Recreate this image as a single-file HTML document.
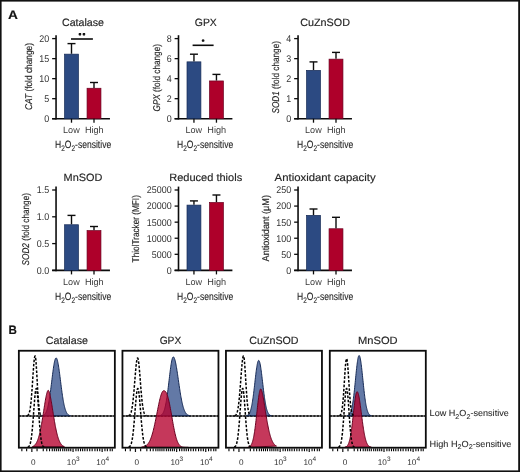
<!DOCTYPE html>
<html><head><meta charset="utf-8"><style>
html,body{margin:0;padding:0;background:#fff;}
body{width:520px;height:472px;overflow:hidden;}
svg{display:block;}
#w{width:520px;height:472px;will-change:transform;}
text{font-family:"Liberation Sans", sans-serif;text-rendering:geometricPrecision;stroke:#262626;stroke-width:0.16px;}
</style></head><body><div id="w">
<svg width="520" height="472" viewBox="0 0 520 472">
<rect x="0" y="0" width="520" height="472" fill="#fff"/>
<line x1="56.05" y1="35.2" x2="56.05" y2="119.5" stroke="#0c0c0c" stroke-width="1.6"/>
<line x1="52.15" y1="118.7" x2="109.94999999999999" y2="118.7" stroke="#0c0c0c" stroke-width="1.6"/>
<line x1="52.15" y1="118.70" x2="56.05" y2="118.70" stroke="#0c0c0c" stroke-width="1.3"/>
<text transform="translate(49.15,122.10) scale(0.91,1)" x="0" y="0" font-size="9.8" text-anchor="end" fill="#333" style="stroke-width:0">0</text>
<line x1="52.15" y1="98.68" x2="56.05" y2="98.68" stroke="#0c0c0c" stroke-width="1.3"/>
<text transform="translate(49.15,102.08) scale(0.91,1)" x="0" y="0" font-size="9.8" text-anchor="end" fill="#333" style="stroke-width:0">5</text>
<line x1="52.15" y1="78.65" x2="56.05" y2="78.65" stroke="#0c0c0c" stroke-width="1.3"/>
<text transform="translate(49.15,82.05) scale(0.91,1)" x="0" y="0" font-size="9.8" text-anchor="end" fill="#333" style="stroke-width:0">10</text>
<line x1="52.15" y1="58.63" x2="56.05" y2="58.63" stroke="#0c0c0c" stroke-width="1.3"/>
<text transform="translate(49.15,62.03) scale(0.91,1)" x="0" y="0" font-size="9.8" text-anchor="end" fill="#333" style="stroke-width:0">15</text>
<line x1="52.15" y1="38.60" x2="56.05" y2="38.60" stroke="#0c0c0c" stroke-width="1.3"/>
<text transform="translate(49.15,42.00) scale(0.91,1)" x="0" y="0" font-size="9.8" text-anchor="end" fill="#333" style="stroke-width:0">20</text>
<line x1="71.5" y1="43.6" x2="71.5" y2="53.8" stroke="#0c0c0c" stroke-width="1.4"/>
<line x1="67.5" y1="43.6" x2="75.5" y2="43.6" stroke="#0c0c0c" stroke-width="1.4"/>
<rect x="64.55" y="54.15" width="13.9" height="64.55000000000001" fill="#2c4a82" stroke="#162a55" stroke-width="0.7"/>
<line x1="71.5" y1="118.7" x2="71.5" y2="122.7" stroke="#0c0c0c" stroke-width="1.3"/>
<line x1="93.99999999999999" y1="82.5" x2="93.99999999999999" y2="87.9" stroke="#0c0c0c" stroke-width="1.4"/>
<line x1="89.99999999999999" y1="82.5" x2="97.99999999999999" y2="82.5" stroke="#0c0c0c" stroke-width="1.4"/>
<rect x="87.04999999999998" y="88.25" width="13.9" height="30.449999999999996" fill="#ae002a" stroke="#6a0020" stroke-width="0.7"/>
<line x1="93.99999999999999" y1="118.7" x2="93.99999999999999" y2="122.7" stroke="#0c0c0c" stroke-width="1.3"/>
<text x="71.40" y="133.10" font-size="9.2" text-anchor="middle" fill="#3a3a3a" font-weight="normal" font-style="normal" textLength="16.6" lengthAdjust="spacingAndGlyphs" style="stroke-width:0">Low</text>
<text x="94.30" y="133.10" font-size="9.2" text-anchor="middle" fill="#3a3a3a" font-weight="normal" font-style="normal" textLength="18.8" lengthAdjust="spacingAndGlyphs" style="stroke-width:0">High</text>
<text x="55.00" y="148.40" font-size="10.6" fill="#2a2a2a" style="stroke-width:0.12px" textLength="56.2" lengthAdjust="spacingAndGlyphs">H<tspan font-size="8" dy="2.6">2</tspan><tspan dy="-2.6">O</tspan><tspan font-size="8" dy="2.6">2</tspan><tspan dy="-2.6">-sensitive</tspan></text>
<text x="62.00" y="25.90" font-size="10.6" text-anchor="start" fill="#262626" font-weight="normal" font-style="normal" textLength="42.0" lengthAdjust="spacingAndGlyphs" >Catalase</text>
<text transform="translate(31.6,76.5) rotate(-90)" x="0" y="0" font-size="9.8" text-anchor="middle" fill="#262626" stroke="#262626" stroke-width="0.25" textLength="67" lengthAdjust="spacingAndGlyphs"><tspan font-style="italic">CAT</tspan><tspan font-style="normal"> (fold change)</tspan></text>
<line x1="71.0" y1="39.0" x2="92.9" y2="39.0" stroke="#0c0c0c" stroke-width="1.6"/>
<path d="M79.95,32.95 l0,2.6 M78.75,33.60 l2.4,1.3 M81.15,33.60 l-2.4,1.3" stroke="#111" stroke-width="1.1"/>
<path d="M83.95,32.95 l0,2.6 M82.75,33.60 l2.4,1.3 M85.15,33.60 l-2.4,1.3" stroke="#111" stroke-width="1.1"/>
<line x1="178.5" y1="35.2" x2="178.5" y2="119.5" stroke="#0c0c0c" stroke-width="1.6"/>
<line x1="174.6" y1="118.7" x2="232.4" y2="118.7" stroke="#0c0c0c" stroke-width="1.6"/>
<line x1="174.6" y1="118.70" x2="178.5" y2="118.70" stroke="#0c0c0c" stroke-width="1.3"/>
<text transform="translate(171.60,122.10) scale(0.91,1)" x="0" y="0" font-size="9.8" text-anchor="end" fill="#333" style="stroke-width:0">0</text>
<line x1="174.6" y1="98.68" x2="178.5" y2="98.68" stroke="#0c0c0c" stroke-width="1.3"/>
<text transform="translate(171.60,102.08) scale(0.91,1)" x="0" y="0" font-size="9.8" text-anchor="end" fill="#333" style="stroke-width:0">2</text>
<line x1="174.6" y1="78.65" x2="178.5" y2="78.65" stroke="#0c0c0c" stroke-width="1.3"/>
<text transform="translate(171.60,82.05) scale(0.91,1)" x="0" y="0" font-size="9.8" text-anchor="end" fill="#333" style="stroke-width:0">4</text>
<line x1="174.6" y1="58.63" x2="178.5" y2="58.63" stroke="#0c0c0c" stroke-width="1.3"/>
<text transform="translate(171.60,62.03) scale(0.91,1)" x="0" y="0" font-size="9.8" text-anchor="end" fill="#333" style="stroke-width:0">6</text>
<line x1="174.6" y1="38.60" x2="178.5" y2="38.60" stroke="#0c0c0c" stroke-width="1.3"/>
<text transform="translate(171.60,42.00) scale(0.91,1)" x="0" y="0" font-size="9.8" text-anchor="end" fill="#333" style="stroke-width:0">8</text>
<line x1="193.95000000000002" y1="54.2" x2="193.95000000000002" y2="61.5" stroke="#0c0c0c" stroke-width="1.4"/>
<line x1="189.95000000000002" y1="54.2" x2="197.95000000000002" y2="54.2" stroke="#0c0c0c" stroke-width="1.4"/>
<rect x="187.0" y="61.85" width="13.9" height="56.85" fill="#2c4a82" stroke="#162a55" stroke-width="0.7"/>
<line x1="193.95000000000002" y1="118.7" x2="193.95000000000002" y2="122.7" stroke="#0c0c0c" stroke-width="1.3"/>
<line x1="216.45000000000002" y1="74.4" x2="216.45000000000002" y2="80.6" stroke="#0c0c0c" stroke-width="1.4"/>
<line x1="212.45000000000002" y1="74.4" x2="220.45000000000002" y2="74.4" stroke="#0c0c0c" stroke-width="1.4"/>
<rect x="209.5" y="80.94999999999999" width="13.9" height="37.75000000000001" fill="#ae002a" stroke="#6a0020" stroke-width="0.7"/>
<line x1="216.45000000000002" y1="118.7" x2="216.45000000000002" y2="122.7" stroke="#0c0c0c" stroke-width="1.3"/>
<text x="193.85" y="133.10" font-size="9.2" text-anchor="middle" fill="#3a3a3a" font-weight="normal" font-style="normal" textLength="16.6" lengthAdjust="spacingAndGlyphs" style="stroke-width:0">Low</text>
<text x="216.75" y="133.10" font-size="9.2" text-anchor="middle" fill="#3a3a3a" font-weight="normal" font-style="normal" textLength="18.8" lengthAdjust="spacingAndGlyphs" style="stroke-width:0">High</text>
<text x="177.00" y="148.40" font-size="10.6" fill="#2a2a2a" style="stroke-width:0.12px" textLength="56.2" lengthAdjust="spacingAndGlyphs">H<tspan font-size="8" dy="2.6">2</tspan><tspan dy="-2.6">O</tspan><tspan font-size="8" dy="2.6">2</tspan><tspan dy="-2.6">-sensitive</tspan></text>
<text x="194.80" y="25.90" font-size="10.6" text-anchor="start" fill="#262626" font-weight="normal" font-style="normal" textLength="22.0" lengthAdjust="spacingAndGlyphs" >GPX</text>
<text transform="translate(159.8,77.8) rotate(-90)" x="0" y="0" font-size="9.8" text-anchor="middle" fill="#262626" stroke="#262626" stroke-width="0.25" textLength="67.4" lengthAdjust="spacingAndGlyphs"><tspan font-style="italic">GPX</tspan><tspan font-style="normal"> (fold change)</tspan></text>
<line x1="192.6" y1="45.3" x2="213.6" y2="45.3" stroke="#0c0c0c" stroke-width="1.6"/>
<path d="M203.10,39.25 l0,2.6 M201.90,39.90 l2.4,1.3 M204.30,39.90 l-2.4,1.3" stroke="#111" stroke-width="1.1"/>
<line x1="298.05" y1="35.2" x2="298.05" y2="119.5" stroke="#0c0c0c" stroke-width="1.6"/>
<line x1="294.15000000000003" y1="118.7" x2="351.95" y2="118.7" stroke="#0c0c0c" stroke-width="1.6"/>
<line x1="294.15000000000003" y1="118.70" x2="298.05" y2="118.70" stroke="#0c0c0c" stroke-width="1.3"/>
<text transform="translate(291.15,122.10) scale(0.91,1)" x="0" y="0" font-size="9.8" text-anchor="end" fill="#333" style="stroke-width:0">0</text>
<line x1="294.15000000000003" y1="98.68" x2="298.05" y2="98.68" stroke="#0c0c0c" stroke-width="1.3"/>
<text transform="translate(291.15,102.08) scale(0.91,1)" x="0" y="0" font-size="9.8" text-anchor="end" fill="#333" style="stroke-width:0">1</text>
<line x1="294.15000000000003" y1="78.65" x2="298.05" y2="78.65" stroke="#0c0c0c" stroke-width="1.3"/>
<text transform="translate(291.15,82.05) scale(0.91,1)" x="0" y="0" font-size="9.8" text-anchor="end" fill="#333" style="stroke-width:0">2</text>
<line x1="294.15000000000003" y1="58.63" x2="298.05" y2="58.63" stroke="#0c0c0c" stroke-width="1.3"/>
<text transform="translate(291.15,62.03) scale(0.91,1)" x="0" y="0" font-size="9.8" text-anchor="end" fill="#333" style="stroke-width:0">3</text>
<line x1="294.15000000000003" y1="38.60" x2="298.05" y2="38.60" stroke="#0c0c0c" stroke-width="1.3"/>
<text transform="translate(291.15,42.00) scale(0.91,1)" x="0" y="0" font-size="9.8" text-anchor="end" fill="#333" style="stroke-width:0">4</text>
<line x1="313.5" y1="61.9" x2="313.5" y2="70.0" stroke="#0c0c0c" stroke-width="1.4"/>
<line x1="309.5" y1="61.9" x2="317.5" y2="61.9" stroke="#0c0c0c" stroke-width="1.4"/>
<rect x="306.55" y="70.35" width="13.9" height="48.35" fill="#2c4a82" stroke="#162a55" stroke-width="0.7"/>
<line x1="313.5" y1="118.7" x2="313.5" y2="122.7" stroke="#0c0c0c" stroke-width="1.3"/>
<line x1="336.0" y1="52.4" x2="336.0" y2="58.8" stroke="#0c0c0c" stroke-width="1.4"/>
<line x1="332.0" y1="52.4" x2="340.0" y2="52.4" stroke="#0c0c0c" stroke-width="1.4"/>
<rect x="329.05" y="59.15" width="13.9" height="59.550000000000004" fill="#ae002a" stroke="#6a0020" stroke-width="0.7"/>
<line x1="336.0" y1="118.7" x2="336.0" y2="122.7" stroke="#0c0c0c" stroke-width="1.3"/>
<text x="313.40" y="133.10" font-size="9.2" text-anchor="middle" fill="#3a3a3a" font-weight="normal" font-style="normal" textLength="16.6" lengthAdjust="spacingAndGlyphs" style="stroke-width:0">Low</text>
<text x="336.30" y="133.10" font-size="9.2" text-anchor="middle" fill="#3a3a3a" font-weight="normal" font-style="normal" textLength="18.8" lengthAdjust="spacingAndGlyphs" style="stroke-width:0">High</text>
<text x="297.00" y="148.40" font-size="10.6" fill="#2a2a2a" style="stroke-width:0.12px" textLength="56.2" lengthAdjust="spacingAndGlyphs">H<tspan font-size="8" dy="2.6">2</tspan><tspan dy="-2.6">O</tspan><tspan font-size="8" dy="2.6">2</tspan><tspan dy="-2.6">-sensitive</tspan></text>
<text x="300.20" y="25.90" font-size="10.6" text-anchor="start" fill="#262626" font-weight="normal" font-style="normal" textLength="49.8" lengthAdjust="spacingAndGlyphs" >CuZnSOD</text>
<text transform="translate(279.0,77.3) rotate(-90)" x="0" y="0" font-size="9.8" text-anchor="middle" fill="#262626" stroke="#262626" stroke-width="0.25" textLength="72.4" lengthAdjust="spacingAndGlyphs"><tspan font-style="italic">SOD1</tspan><tspan font-style="normal"> (fold change)</tspan></text>
<line x1="56.05" y1="186.6" x2="56.05" y2="271.2" stroke="#0c0c0c" stroke-width="1.6"/>
<line x1="52.15" y1="270.4" x2="109.94999999999999" y2="270.4" stroke="#0c0c0c" stroke-width="1.6"/>
<line x1="52.15" y1="270.40" x2="56.05" y2="270.40" stroke="#0c0c0c" stroke-width="1.3"/>
<text transform="translate(49.15,273.80) scale(0.91,1)" x="0" y="0" font-size="9.8" text-anchor="end" fill="#333" style="stroke-width:0">0.0</text>
<line x1="52.15" y1="243.60" x2="56.05" y2="243.60" stroke="#0c0c0c" stroke-width="1.3"/>
<text transform="translate(49.15,247.00) scale(0.91,1)" x="0" y="0" font-size="9.8" text-anchor="end" fill="#333" style="stroke-width:0">0.5</text>
<line x1="52.15" y1="216.80" x2="56.05" y2="216.80" stroke="#0c0c0c" stroke-width="1.3"/>
<text transform="translate(49.15,220.20) scale(0.91,1)" x="0" y="0" font-size="9.8" text-anchor="end" fill="#333" style="stroke-width:0">1.0</text>
<line x1="52.15" y1="190.00" x2="56.05" y2="190.00" stroke="#0c0c0c" stroke-width="1.3"/>
<text transform="translate(49.15,193.40) scale(0.91,1)" x="0" y="0" font-size="9.8" text-anchor="end" fill="#333" style="stroke-width:0">1.5</text>
<line x1="71.5" y1="215.4" x2="71.5" y2="224.4" stroke="#0c0c0c" stroke-width="1.4"/>
<line x1="67.5" y1="215.4" x2="75.5" y2="215.4" stroke="#0c0c0c" stroke-width="1.4"/>
<rect x="64.55" y="224.75" width="13.9" height="45.64999999999997" fill="#2c4a82" stroke="#162a55" stroke-width="0.7"/>
<line x1="71.5" y1="270.4" x2="71.5" y2="274.4" stroke="#0c0c0c" stroke-width="1.3"/>
<line x1="93.99999999999999" y1="226.5" x2="93.99999999999999" y2="230.25" stroke="#0c0c0c" stroke-width="1.4"/>
<line x1="89.99999999999999" y1="226.5" x2="97.99999999999999" y2="226.5" stroke="#0c0c0c" stroke-width="1.4"/>
<rect x="87.04999999999998" y="230.6" width="13.9" height="39.799999999999976" fill="#ae002a" stroke="#6a0020" stroke-width="0.7"/>
<line x1="93.99999999999999" y1="270.4" x2="93.99999999999999" y2="274.4" stroke="#0c0c0c" stroke-width="1.3"/>
<text x="71.40" y="284.80" font-size="9.2" text-anchor="middle" fill="#3a3a3a" font-weight="normal" font-style="normal" textLength="16.6" lengthAdjust="spacingAndGlyphs" style="stroke-width:0">Low</text>
<text x="94.30" y="284.80" font-size="9.2" text-anchor="middle" fill="#3a3a3a" font-weight="normal" font-style="normal" textLength="18.8" lengthAdjust="spacingAndGlyphs" style="stroke-width:0">High</text>
<text x="55.00" y="300.10" font-size="10.6" fill="#2a2a2a" style="stroke-width:0.12px" textLength="56.2" lengthAdjust="spacingAndGlyphs">H<tspan font-size="8" dy="2.6">2</tspan><tspan dy="-2.6">O</tspan><tspan font-size="8" dy="2.6">2</tspan><tspan dy="-2.6">-sensitive</tspan></text>
<text x="63.60" y="181.00" font-size="10.6" text-anchor="start" fill="#262626" font-weight="normal" font-style="normal" textLength="38.8" lengthAdjust="spacingAndGlyphs" >MnSOD</text>
<text transform="translate(29.2,229.25) rotate(-90)" x="0" y="0" font-size="9.8" text-anchor="middle" fill="#262626" stroke="#262626" stroke-width="0.25" textLength="72.3" lengthAdjust="spacingAndGlyphs"><tspan font-style="italic">SOD2</tspan><tspan font-style="normal"> (fold change)</tspan></text>
<line x1="178.5" y1="186.6" x2="178.5" y2="271.2" stroke="#0c0c0c" stroke-width="1.6"/>
<line x1="174.6" y1="270.4" x2="232.4" y2="270.4" stroke="#0c0c0c" stroke-width="1.6"/>
<line x1="174.6" y1="270.40" x2="178.5" y2="270.40" stroke="#0c0c0c" stroke-width="1.3"/>
<text transform="translate(171.60,273.80) scale(0.91,1)" x="0" y="0" font-size="9.8" text-anchor="end" fill="#333" style="stroke-width:0">0</text>
<line x1="174.6" y1="254.32" x2="178.5" y2="254.32" stroke="#0c0c0c" stroke-width="1.3"/>
<text transform="translate(171.60,257.72) scale(0.91,1)" x="0" y="0" font-size="9.8" text-anchor="end" fill="#333" style="stroke-width:0">5000</text>
<line x1="174.6" y1="238.24" x2="178.5" y2="238.24" stroke="#0c0c0c" stroke-width="1.3"/>
<text transform="translate(171.60,241.64) scale(0.91,1)" x="0" y="0" font-size="9.8" text-anchor="end" fill="#333" style="stroke-width:0">10000</text>
<line x1="174.6" y1="222.16" x2="178.5" y2="222.16" stroke="#0c0c0c" stroke-width="1.3"/>
<text transform="translate(171.60,225.56) scale(0.91,1)" x="0" y="0" font-size="9.8" text-anchor="end" fill="#333" style="stroke-width:0">15000</text>
<line x1="174.6" y1="206.08" x2="178.5" y2="206.08" stroke="#0c0c0c" stroke-width="1.3"/>
<text transform="translate(171.60,209.48) scale(0.91,1)" x="0" y="0" font-size="9.8" text-anchor="end" fill="#333" style="stroke-width:0">20000</text>
<line x1="174.6" y1="190.00" x2="178.5" y2="190.00" stroke="#0c0c0c" stroke-width="1.3"/>
<text transform="translate(171.60,193.40) scale(0.91,1)" x="0" y="0" font-size="9.8" text-anchor="end" fill="#333" style="stroke-width:0">25000</text>
<line x1="193.95000000000002" y1="200.9" x2="193.95000000000002" y2="204.75" stroke="#0c0c0c" stroke-width="1.4"/>
<line x1="189.95000000000002" y1="200.9" x2="197.95000000000002" y2="200.9" stroke="#0c0c0c" stroke-width="1.4"/>
<rect x="187.0" y="205.1" width="13.9" height="65.29999999999998" fill="#2c4a82" stroke="#162a55" stroke-width="0.7"/>
<line x1="193.95000000000002" y1="270.4" x2="193.95000000000002" y2="274.4" stroke="#0c0c0c" stroke-width="1.3"/>
<line x1="216.45000000000002" y1="195.0" x2="216.45000000000002" y2="202.1" stroke="#0c0c0c" stroke-width="1.4"/>
<line x1="212.45000000000002" y1="195.0" x2="220.45000000000002" y2="195.0" stroke="#0c0c0c" stroke-width="1.4"/>
<rect x="209.5" y="202.45" width="13.9" height="67.94999999999999" fill="#ae002a" stroke="#6a0020" stroke-width="0.7"/>
<line x1="216.45000000000002" y1="270.4" x2="216.45000000000002" y2="274.4" stroke="#0c0c0c" stroke-width="1.3"/>
<text x="193.85" y="284.80" font-size="9.2" text-anchor="middle" fill="#3a3a3a" font-weight="normal" font-style="normal" textLength="16.6" lengthAdjust="spacingAndGlyphs" style="stroke-width:0">Low</text>
<text x="216.75" y="284.80" font-size="9.2" text-anchor="middle" fill="#3a3a3a" font-weight="normal" font-style="normal" textLength="18.8" lengthAdjust="spacingAndGlyphs" style="stroke-width:0">High</text>
<text x="177.00" y="300.10" font-size="10.6" fill="#2a2a2a" style="stroke-width:0.12px" textLength="56.2" lengthAdjust="spacingAndGlyphs">H<tspan font-size="8" dy="2.6">2</tspan><tspan dy="-2.6">O</tspan><tspan font-size="8" dy="2.6">2</tspan><tspan dy="-2.6">-sensitive</tspan></text>
<text x="169.20" y="181.00" font-size="10.6" text-anchor="start" fill="#262626" font-weight="normal" font-style="normal" textLength="73.0" lengthAdjust="spacingAndGlyphs" >Reduced thiols</text>
<text transform="translate(139.2,228.75) rotate(-90)" x="0" y="0" font-size="9.8" text-anchor="middle" fill="#262626" stroke="#262626" stroke-width="0.25" textLength="67.3" lengthAdjust="spacingAndGlyphs"><tspan font-style="normal">ThiolTracker (MFI)</tspan></text>
<line x1="298.05" y1="186.6" x2="298.05" y2="271.2" stroke="#0c0c0c" stroke-width="1.6"/>
<line x1="294.15000000000003" y1="270.4" x2="351.95" y2="270.4" stroke="#0c0c0c" stroke-width="1.6"/>
<line x1="294.15000000000003" y1="270.40" x2="298.05" y2="270.40" stroke="#0c0c0c" stroke-width="1.3"/>
<text transform="translate(291.15,273.80) scale(0.91,1)" x="0" y="0" font-size="9.8" text-anchor="end" fill="#333" style="stroke-width:0">0</text>
<line x1="294.15000000000003" y1="254.32" x2="298.05" y2="254.32" stroke="#0c0c0c" stroke-width="1.3"/>
<text transform="translate(291.15,257.72) scale(0.91,1)" x="0" y="0" font-size="9.8" text-anchor="end" fill="#333" style="stroke-width:0">50</text>
<line x1="294.15000000000003" y1="238.24" x2="298.05" y2="238.24" stroke="#0c0c0c" stroke-width="1.3"/>
<text transform="translate(291.15,241.64) scale(0.91,1)" x="0" y="0" font-size="9.8" text-anchor="end" fill="#333" style="stroke-width:0">100</text>
<line x1="294.15000000000003" y1="222.16" x2="298.05" y2="222.16" stroke="#0c0c0c" stroke-width="1.3"/>
<text transform="translate(291.15,225.56) scale(0.91,1)" x="0" y="0" font-size="9.8" text-anchor="end" fill="#333" style="stroke-width:0">150</text>
<line x1="294.15000000000003" y1="206.08" x2="298.05" y2="206.08" stroke="#0c0c0c" stroke-width="1.3"/>
<text transform="translate(291.15,209.48) scale(0.91,1)" x="0" y="0" font-size="9.8" text-anchor="end" fill="#333" style="stroke-width:0">200</text>
<line x1="294.15000000000003" y1="190.00" x2="298.05" y2="190.00" stroke="#0c0c0c" stroke-width="1.3"/>
<text transform="translate(291.15,193.40) scale(0.91,1)" x="0" y="0" font-size="9.8" text-anchor="end" fill="#333" style="stroke-width:0">250</text>
<line x1="313.5" y1="209.0" x2="313.5" y2="215.0" stroke="#0c0c0c" stroke-width="1.4"/>
<line x1="309.5" y1="209.0" x2="317.5" y2="209.0" stroke="#0c0c0c" stroke-width="1.4"/>
<rect x="306.55" y="215.35" width="13.9" height="55.049999999999976" fill="#2c4a82" stroke="#162a55" stroke-width="0.7"/>
<line x1="313.5" y1="270.4" x2="313.5" y2="274.4" stroke="#0c0c0c" stroke-width="1.3"/>
<line x1="336.0" y1="217.3" x2="336.0" y2="228.4" stroke="#0c0c0c" stroke-width="1.4"/>
<line x1="332.0" y1="217.3" x2="340.0" y2="217.3" stroke="#0c0c0c" stroke-width="1.4"/>
<rect x="329.05" y="228.75" width="13.9" height="41.64999999999997" fill="#ae002a" stroke="#6a0020" stroke-width="0.7"/>
<line x1="336.0" y1="270.4" x2="336.0" y2="274.4" stroke="#0c0c0c" stroke-width="1.3"/>
<text x="313.40" y="284.80" font-size="9.2" text-anchor="middle" fill="#3a3a3a" font-weight="normal" font-style="normal" textLength="16.6" lengthAdjust="spacingAndGlyphs" style="stroke-width:0">Low</text>
<text x="336.30" y="284.80" font-size="9.2" text-anchor="middle" fill="#3a3a3a" font-weight="normal" font-style="normal" textLength="18.8" lengthAdjust="spacingAndGlyphs" style="stroke-width:0">High</text>
<text x="297.00" y="300.10" font-size="10.6" fill="#2a2a2a" style="stroke-width:0.12px" textLength="56.2" lengthAdjust="spacingAndGlyphs">H<tspan font-size="8" dy="2.6">2</tspan><tspan dy="-2.6">O</tspan><tspan font-size="8" dy="2.6">2</tspan><tspan dy="-2.6">-sensitive</tspan></text>
<text x="274.60" y="181.00" font-size="10.6" text-anchor="start" fill="#262626" font-weight="normal" font-style="normal" textLength="101.0" lengthAdjust="spacingAndGlyphs" >Antioxidant capacity</text>
<text transform="translate(269.2,228.25) rotate(-90)" x="0" y="0" font-size="9.8" text-anchor="middle" fill="#262626" stroke="#262626" stroke-width="0.25" textLength="66.3" lengthAdjust="spacingAndGlyphs"><tspan font-style="normal">Antioxidant (μM)</tspan></text>
<text x="66.85" y="344.40" font-size="10.6" text-anchor="middle" fill="#262626" font-weight="normal" font-style="normal" textLength="42.2" lengthAdjust="spacingAndGlyphs" >Catalase</text>
<clipPath id="clipB0"><rect x="18.85" y="350.75" width="96.0" height="96.94999999999999"/></clipPath>
<g clip-path="url(#clipB0)">
<line x1="18.85" y1="416.0" x2="114.85" y2="416.0" stroke="#4a4a4a" stroke-width="1.4"/>
<line x1="18.85" y1="416.0" x2="114.85" y2="416.0" stroke="#111" stroke-width="1.4" stroke-dasharray="2,1.5"/>
<path d="M41.91,415.75 L42.12,415.71 L42.32,415.66 L42.53,415.60 L42.73,415.54 L42.94,415.46 L43.14,415.38 L43.35,415.29 L43.55,415.18 L43.76,415.06 L43.96,414.92 L44.17,414.77 L44.37,414.59 L44.58,414.40 L44.78,414.18 L44.99,413.94 L45.19,413.67 L45.40,413.38 L45.60,413.05 L45.81,412.69 L46.01,412.29 L46.22,411.86 L46.42,411.39 L46.63,410.87 L46.83,410.31 L47.04,409.70 L47.24,409.04 L47.45,408.33 L47.65,407.57 L47.86,406.75 L48.06,405.87 L48.27,404.94 L48.47,403.95 L48.68,402.90 L48.88,401.80 L49.09,400.63 L49.29,399.41 L49.50,398.13 L49.70,396.79 L49.91,395.40 L50.11,393.96 L50.32,392.47 L50.52,390.94 L50.73,389.38 L50.93,387.77 L51.14,386.14 L51.34,384.49 L51.55,382.82 L51.75,381.14 L51.96,379.46 L52.16,377.79 L52.37,376.13 L52.57,374.49 L52.78,372.88 L52.98,371.32 L53.19,369.80 L53.39,368.34 L53.60,366.94 L53.80,365.62 L54.01,364.38 L54.21,363.23 L54.42,362.17 L54.62,361.22 L54.83,360.38 L55.03,359.66 L55.24,359.05 L55.44,358.57 L55.65,358.22 L55.85,357.99 L56.06,357.90 L56.27,357.94 L56.47,358.11 L56.68,358.39 L56.88,358.81 L57.09,359.34 L57.29,359.99 L57.50,360.75 L57.70,361.62 L57.91,362.59 L58.11,363.66 L58.32,364.82 L58.52,366.06 L58.73,367.38 L58.93,368.76 L59.14,370.21 L59.34,371.71 L59.55,373.25 L59.75,374.82 L59.96,376.43 L60.16,378.05 L60.37,379.69 L60.57,381.33 L60.78,382.97 L60.98,384.60 L61.19,386.22 L61.39,387.81 L61.60,389.38 L61.80,390.91 L62.01,392.41 L62.21,393.86 L62.42,395.27 L62.62,396.63 L62.83,397.95 L63.03,399.21 L63.24,400.41 L63.44,401.56 L63.65,402.66 L63.85,403.70 L64.06,404.68 L64.26,405.61 L64.47,406.48 L64.67,407.29 L64.88,408.06 L65.08,408.77 L65.29,409.43 L65.49,410.05 L65.70,410.62 L65.90,411.14 L66.11,411.63 L66.31,412.07 L66.52,412.48 L66.72,412.85 L66.93,413.19 L67.13,413.50 L67.34,413.77 L67.54,414.03 L67.75,414.25 L67.95,414.46 L68.16,414.64 L68.36,414.81 L68.57,414.95 L68.77,415.08 L68.98,415.20 L69.18,415.30 L69.39,415.39 L69.59,415.47 L69.80,415.54 L70.00,415.61 L70.21,415.66 L70.41,415.71 L70.62,415.75 Z" fill="#2c4a87" fill-opacity="0.74" stroke="#162a55" stroke-width="1.0"/>
<path d="M32.36,446.62 L32.59,446.52 L32.82,446.42 L33.05,446.31 L33.27,446.19 L33.50,446.05 L33.73,445.91 L33.96,445.74 L34.19,445.57 L34.42,445.37 L34.65,445.16 L34.88,444.93 L35.10,444.68 L35.33,444.41 L35.56,444.12 L35.79,443.80 L36.02,443.46 L36.25,443.09 L36.48,442.69 L36.70,442.26 L36.93,441.80 L37.16,441.31 L37.39,440.79 L37.62,440.23 L37.85,439.63 L38.08,438.99 L38.30,438.32 L38.53,437.60 L38.76,436.85 L38.99,436.05 L39.22,435.21 L39.45,434.33 L39.68,433.40 L39.91,432.42 L40.13,431.41 L40.36,430.35 L40.59,429.24 L40.82,428.10 L41.05,426.91 L41.28,425.68 L41.51,424.41 L41.73,423.11 L41.96,421.77 L42.19,420.40 L42.42,419.00 L42.65,417.58 L42.88,416.13 L43.11,414.67 L43.33,413.19 L43.56,411.70 L43.79,410.21 L44.02,408.73 L44.25,407.25 L44.48,405.78 L44.71,404.34 L44.94,402.92 L45.16,401.54 L45.39,400.20 L45.62,398.91 L45.85,397.67 L46.08,396.50 L46.31,395.40 L46.54,394.39 L46.76,393.46 L46.99,392.63 L47.22,391.91 L47.45,391.30 L47.68,390.82 L47.91,390.48 L48.14,390.31 L48.37,390.36 L48.59,390.60 L48.82,390.99 L49.05,391.51 L49.28,392.14 L49.51,392.89 L49.74,393.73 L49.97,394.67 L50.19,395.69 L50.42,396.78 L50.65,397.94 L50.88,399.17 L51.11,400.44 L51.34,401.76 L51.57,403.12 L51.79,404.52 L52.02,405.93 L52.25,407.37 L52.48,408.82 L52.71,410.28 L52.94,411.73 L53.17,413.19 L53.40,414.64 L53.62,416.07 L53.85,417.49 L54.08,418.89 L54.31,420.26 L54.54,421.61 L54.77,422.92 L55.00,424.20 L55.22,425.45 L55.45,426.66 L55.68,427.83 L55.91,428.97 L56.14,430.06 L56.37,431.11 L56.60,432.12 L56.82,433.08 L57.05,434.01 L57.28,434.89 L57.51,435.73 L57.74,436.53 L57.97,437.29 L58.20,438.00 L58.43,438.68 L58.65,439.32 L58.88,439.93 L59.11,440.49 L59.34,441.03 L59.57,441.53 L59.80,442.00 L60.03,442.43 L60.25,442.84 L60.48,443.22 L60.71,443.57 L60.94,443.90 L61.17,444.20 L61.40,444.49 L61.63,444.75 L61.85,444.99 L62.08,445.21 L62.31,445.41 L62.54,445.60 L62.77,445.77 L63.00,445.92 L63.23,446.07 L63.46,446.20 L63.68,446.32 L63.91,446.43 L64.14,446.53 L64.37,446.62 Z" fill="#b5002d" fill-opacity="0.78" stroke="#6a0020" stroke-width="1.0"/>
<path d="M27.18,415.74 L27.28,415.70 L27.39,415.66 L27.49,415.61 L27.59,415.55 L27.70,415.48 L27.80,415.41 L27.91,415.33 L28.01,415.24 L28.11,415.13 L28.22,415.02 L28.32,414.89 L28.42,414.75 L28.53,414.59 L28.63,414.41 L28.74,414.22 L28.84,414.00 L28.94,413.77 L29.05,413.51 L29.15,413.22 L29.25,412.91 L29.36,412.57 L29.46,412.20 L29.57,411.80 L29.67,411.36 L29.77,410.89 L29.88,410.38 L29.98,409.83 L30.08,409.24 L30.19,408.61 L30.29,407.94 L30.40,407.22 L30.50,406.45 L30.60,405.63 L30.71,404.77 L30.81,403.86 L30.91,402.89 L31.02,401.88 L31.12,400.82 L31.22,399.71 L31.33,398.54 L31.43,397.34 L31.54,396.08 L31.64,394.78 L31.74,393.44 L31.85,392.05 L31.95,390.63 L32.05,389.18 L32.16,387.69 L32.26,386.18 L32.37,384.65 L32.47,383.09 L32.57,381.53 L32.68,379.96 L32.78,378.39 L32.88,376.82 L32.99,375.26 L33.09,373.72 L33.20,372.21 L33.30,370.72 L33.40,369.27 L33.51,367.87 L33.61,366.51 L33.71,365.22 L33.82,363.98 L33.92,362.82 L34.03,361.73 L34.13,360.72 L34.23,359.79 L34.34,358.96 L34.44,358.23 L34.54,357.59 L34.65,357.06 L34.75,356.63 L34.85,356.31 L34.96,356.10 L35.06,356.01 L35.17,356.03 L35.27,356.22 L35.37,356.56 L35.48,357.06 L35.58,357.71 L35.68,358.51 L35.79,359.45 L35.89,360.52 L36.00,361.73 L36.10,363.04 L36.20,364.47 L36.31,365.99 L36.41,367.59 L36.51,369.27 L36.62,371.02 L36.72,372.81 L36.83,374.64 L36.93,376.51 L37.03,378.39 L37.14,380.27 L37.24,382.16 L37.34,384.03 L37.45,385.87 L37.55,387.69 L37.66,389.47 L37.76,391.20 L37.86,392.89 L37.97,394.51 L38.07,396.08 L38.17,397.58 L38.28,399.01 L38.38,400.38 L38.48,401.67 L38.59,402.89 L38.69,404.04 L38.80,405.12 L38.90,406.13 L39.00,407.07 L39.11,407.94 L39.21,408.74 L39.31,409.49 L39.42,410.17 L39.52,410.79 L39.63,411.36 L39.73,411.88 L39.83,412.35 L39.94,412.78 L40.04,413.16 L40.14,413.51 L40.25,413.82 L40.35,414.09 L40.46,414.34 L40.56,414.55 L40.66,414.75 L40.77,414.92 L40.87,415.07 L40.97,415.20 L41.08,415.31 L41.18,415.41 L41.29,415.50 L41.39,415.57 L41.49,415.64 L41.60,415.69 L41.70,415.74" fill="none" stroke="#000" stroke-width="1.5" stroke-dasharray="2.6,1.6"/>
<path d="M27.72,447.15 L27.84,447.10 L27.96,447.06 L28.07,447.01 L28.19,446.94 L28.31,446.88 L28.43,446.80 L28.54,446.71 L28.66,446.61 L28.78,446.50 L28.90,446.38 L29.02,446.24 L29.13,446.08 L29.25,445.91 L29.37,445.71 L29.49,445.50 L29.61,445.26 L29.72,445.00 L29.84,444.71 L29.96,444.39 L30.08,444.04 L30.20,443.66 L30.31,443.24 L30.43,442.79 L30.55,442.30 L30.67,441.77 L30.78,441.19 L30.90,440.57 L31.02,439.91 L31.14,439.19 L31.26,438.43 L31.37,437.62 L31.49,436.75 L31.61,435.83 L31.73,434.86 L31.84,433.83 L31.96,432.75 L32.08,431.61 L32.20,430.43 L32.32,429.19 L32.43,427.90 L32.55,426.56 L32.67,425.17 L32.79,423.75 L32.91,422.28 L33.02,420.78 L33.14,419.24 L33.26,417.68 L33.38,416.09 L33.49,414.49 L33.61,412.87 L33.73,411.25 L33.85,409.64 L33.97,408.03 L34.08,406.43 L34.20,404.87 L34.32,403.33 L34.44,401.82 L34.56,400.37 L34.67,398.97 L34.79,397.62 L34.91,396.35 L35.03,395.15 L35.14,394.03 L35.26,393.00 L35.38,392.07 L35.50,391.23 L35.62,390.50 L35.73,389.88 L35.85,389.37 L35.97,388.97 L36.09,388.70 L36.21,388.54 L36.32,388.50 L36.44,388.60 L36.56,388.84 L36.68,389.22 L36.80,389.74 L36.91,390.39 L37.03,391.17 L37.15,392.07 L37.27,393.09 L37.38,394.21 L37.50,395.44 L37.62,396.77 L37.74,398.18 L37.86,399.66 L37.97,401.21 L38.09,402.82 L38.21,404.48 L38.33,406.17 L38.45,407.89 L38.56,409.64 L38.68,411.39 L38.80,413.14 L38.92,414.89 L39.03,416.62 L39.15,418.33 L39.27,420.01 L39.39,421.66 L39.51,423.26 L39.62,424.82 L39.74,426.33 L39.86,427.79 L39.98,429.19 L40.09,430.53 L40.21,431.81 L40.33,433.02 L40.45,434.18 L40.57,435.27 L40.68,436.30 L40.80,437.26 L40.92,438.16 L41.04,439.01 L41.16,439.79 L41.27,440.52 L41.39,441.19 L41.51,441.81 L41.63,442.38 L41.74,442.91 L41.86,443.39 L41.98,443.82 L42.10,444.22 L42.22,444.58 L42.33,444.90 L42.45,445.20 L42.57,445.46 L42.69,445.69 L42.81,445.91 L42.92,446.09 L43.04,446.26 L43.16,446.41 L43.28,446.54 L43.39,446.65 L43.51,446.76 L43.63,446.85 L43.75,446.92 L43.87,446.99 L43.98,447.05 L44.10,447.10 L44.22,447.15" fill="none" stroke="#000" stroke-width="1.5" stroke-dasharray="2.6,1.6"/>
</g>
<rect x="18.85" y="350.75" width="96.0" height="96.94999999999999" fill="none" stroke="#0c0c0c" stroke-width="1.8"/>
<path d="M21.85,448.60 V451.30 M26.65,448.60 V451.30 M37.05,448.60 V451.30 M43.25,448.60 V451.30 M46.75,448.60 V451.30 M49.55,448.60 V451.30 M52.25,448.60 V451.30 M54.35,448.60 V451.30 M56.35,448.60 V451.30 M58.35,448.60 V451.30 M60.35,448.60 V451.30 M62.75,448.60 V451.30 M64.75,448.60 V451.30 M66.75,448.60 V451.30 M68.75,448.60 V451.30 M70.75,448.60 V451.30 M75.95,448.60 V451.30 M78.25,448.60 V451.30 M80.55,448.60 V451.30 M82.65,448.60 V451.30 M84.85,448.60 V451.30 M87.25,448.60 V451.30 M89.75,448.60 V451.30 M92.15,448.60 V451.30 M94.95,448.60 V451.30 M97.35,448.60 V451.30 M99.75,448.60 V451.30 M104.95,448.60 V451.30 M107.35,448.60 V451.30 M110.15,448.60 V451.30 M112.25,448.60 V451.30" stroke="#000" stroke-width="1.1"/>
<path d="M31.85,448.60 V452.10 M73.05,448.60 V452.10 M102.15,448.60 V452.10" stroke="#111" stroke-width="1.2"/>
<text x="33.25" y="464.60" font-size="8.2" text-anchor="middle" fill="#333" font-weight="normal" font-style="normal" style="stroke-width:0">0</text>
<text x="66.85" y="464.6" font-size="8.2" fill="#333" style="stroke-width:0">10<tspan font-size="6.5" dy="-3.4">3</tspan></text>
<text x="96.35" y="464.6" font-size="8.2" fill="#333" style="stroke-width:0">10<tspan font-size="6.5" dy="-3.4">4</tspan></text>
<text x="170.45" y="344.40" font-size="10.6" text-anchor="middle" fill="#262626" font-weight="normal" font-style="normal" textLength="21.6" lengthAdjust="spacingAndGlyphs" >GPX</text>
<clipPath id="clipB1"><rect x="122.45" y="350.75" width="96.0" height="96.94999999999999"/></clipPath>
<g clip-path="url(#clipB1)">
<line x1="122.45" y1="416.0" x2="218.45" y2="416.0" stroke="#4a4a4a" stroke-width="1.4"/>
<line x1="122.45" y1="416.0" x2="218.45" y2="416.0" stroke="#111" stroke-width="1.4" stroke-dasharray="2,1.5"/>
<path d="M159.44,415.74 L159.66,415.70 L159.88,415.64 L160.10,415.58 L160.32,415.50 L160.54,415.42 L160.76,415.32 L160.97,415.20 L161.19,415.07 L161.41,414.92 L161.63,414.75 L161.85,414.56 L162.07,414.34 L162.29,414.10 L162.51,413.82 L162.73,413.51 L162.95,413.17 L163.17,412.78 L163.39,412.36 L163.61,411.88 L163.82,411.36 L164.04,410.79 L164.26,410.16 L164.48,409.48 L164.70,408.73 L164.92,407.92 L165.14,407.05 L165.36,406.11 L165.58,405.10 L165.80,404.01 L166.02,402.86 L166.24,401.64 L166.45,400.34 L166.67,398.97 L166.89,397.54 L167.11,396.03 L167.33,394.47 L167.55,392.84 L167.77,391.16 L167.99,389.43 L168.21,387.65 L168.43,385.84 L168.65,384.01 L168.87,382.15 L169.09,380.28 L169.30,378.41 L169.52,376.55 L169.74,374.71 L169.96,372.90 L170.18,371.14 L170.40,369.43 L170.62,367.79 L170.84,366.22 L171.06,364.75 L171.28,363.37 L171.50,362.10 L171.72,360.96 L171.94,359.94 L172.15,359.06 L172.37,358.32 L172.59,357.73 L172.81,357.30 L173.03,357.02 L173.25,356.90 L173.47,356.93 L173.69,357.07 L173.91,357.32 L174.13,357.67 L174.35,358.13 L174.57,358.69 L174.78,359.35 L175.00,360.11 L175.22,360.96 L175.44,361.89 L175.66,362.91 L175.88,364.00 L176.10,365.17 L176.32,366.40 L176.54,367.69 L176.76,369.04 L176.98,370.43 L177.20,371.86 L177.42,373.32 L177.63,374.82 L177.85,376.33 L178.07,377.86 L178.29,379.40 L178.51,380.94 L178.73,382.48 L178.95,384.01 L179.17,385.52 L179.39,387.02 L179.61,388.49 L179.83,389.94 L180.05,391.36 L180.27,392.74 L180.48,394.09 L180.70,395.40 L180.92,396.66 L181.14,397.88 L181.36,399.06 L181.58,400.18 L181.80,401.26 L182.02,402.29 L182.24,403.28 L182.46,404.21 L182.68,405.10 L182.90,405.93 L183.12,406.73 L183.33,407.47 L183.55,408.17 L183.77,408.82 L183.99,409.44 L184.21,410.01 L184.43,410.54 L184.65,411.03 L184.87,411.49 L185.09,411.91 L185.31,412.30 L185.53,412.66 L185.75,412.99 L185.96,413.29 L186.18,413.57 L186.40,413.82 L186.62,414.05 L186.84,414.26 L187.06,414.45 L187.28,414.62 L187.50,414.77 L187.72,414.91 L187.94,415.04 L188.16,415.15 L188.38,415.25 L188.60,415.34 L188.81,415.42 L189.03,415.49 L189.25,415.56 L189.47,415.61 L189.69,415.66 L189.91,415.71 L190.13,415.74 Z" fill="#2c4a87" fill-opacity="0.74" stroke="#162a55" stroke-width="1.0"/>
<path d="M141.59,447.16 L141.92,447.11 L142.26,447.06 L142.59,447.00 L142.93,446.94 L143.26,446.86 L143.60,446.77 L143.93,446.67 L144.27,446.55 L144.60,446.42 L144.94,446.28 L145.27,446.11 L145.61,445.92 L145.94,445.71 L146.28,445.47 L146.61,445.21 L146.95,444.91 L147.28,444.59 L147.61,444.22 L147.95,443.82 L148.28,443.38 L148.62,442.90 L148.95,442.37 L149.29,441.79 L149.62,441.16 L149.96,440.48 L150.29,439.74 L150.63,438.95 L150.96,438.10 L151.30,437.18 L151.63,436.20 L151.97,435.17 L152.30,434.06 L152.64,432.90 L152.97,431.67 L153.30,430.38 L153.64,429.03 L153.97,427.63 L154.31,426.17 L154.64,424.66 L154.98,423.10 L155.31,421.50 L155.65,419.86 L155.98,418.19 L156.32,416.50 L156.65,414.79 L156.99,413.08 L157.32,411.36 L157.66,409.65 L157.99,407.96 L158.33,406.30 L158.66,404.67 L159.00,403.09 L159.33,401.56 L159.66,400.11 L160.00,398.72 L160.33,397.42 L160.67,396.22 L161.00,395.11 L161.34,394.12 L161.67,393.24 L162.01,392.48 L162.34,391.85 L162.68,391.36 L163.01,391.00 L163.35,390.78 L163.68,390.70 L164.02,390.71 L164.35,390.76 L164.69,390.88 L165.02,391.07 L165.35,391.34 L165.69,391.72 L166.02,392.20 L166.36,392.78 L166.69,393.48 L167.03,394.30 L167.36,395.23 L167.70,396.29 L168.03,397.45 L168.37,398.73 L168.70,400.12 L169.04,401.60 L169.37,403.18 L169.71,404.84 L170.04,406.58 L170.38,408.38 L170.71,410.23 L171.04,412.12 L171.38,414.04 L171.71,415.98 L172.05,417.91 L172.38,419.84 L172.72,421.74 L173.05,423.61 L173.39,425.43 L173.72,427.20 L174.06,428.91 L174.39,430.55 L174.73,432.11 L175.06,433.59 L175.40,434.98 L175.73,436.29 L176.07,437.50 L176.40,438.62 L176.73,439.66 L177.07,440.60 L177.40,441.46 L177.74,442.24 L178.07,442.94 L178.41,443.56 L178.74,444.12 L179.08,444.61 L179.41,445.03 L179.75,445.41 L180.08,445.73 L180.42,446.01 L180.75,446.25 L181.09,446.45 L181.42,446.62 L181.76,446.77 L182.09,446.89 L182.43,446.99 L182.76,447.07 L183.09,447.14 L183.43,447.19 L183.76,447.24 L184.10,447.27 L184.43,447.30 L184.77,447.32 L185.10,447.34 L185.44,447.36 L185.77,447.37 L186.11,447.37 L186.44,447.38 L186.78,447.39 L187.11,447.39 L187.45,447.39 L187.78,447.39 L188.12,447.40 L188.45,447.40 Z" fill="#b5002d" fill-opacity="0.78" stroke="#6a0020" stroke-width="1.0"/>
<path d="M128.36,415.75 L128.49,415.71 L128.62,415.66 L128.75,415.61 L128.88,415.55 L129.01,415.48 L129.14,415.40 L129.27,415.31 L129.40,415.21 L129.53,415.09 L129.66,414.96 L129.79,414.82 L129.92,414.66 L130.05,414.48 L130.17,414.28 L130.30,414.05 L130.43,413.81 L130.56,413.53 L130.69,413.23 L130.82,412.90 L130.95,412.54 L131.08,412.14 L131.21,411.70 L131.34,411.23 L131.47,410.71 L131.60,410.16 L131.73,409.55 L131.86,408.90 L131.99,408.21 L132.12,407.46 L132.25,406.66 L132.38,405.80 L132.51,404.90 L132.64,403.93 L132.77,402.92 L132.90,401.84 L133.03,400.72 L133.16,399.53 L133.29,398.30 L133.42,397.01 L133.55,395.67 L133.68,394.28 L133.80,392.85 L133.93,391.38 L134.06,389.87 L134.19,388.32 L134.32,386.75 L134.45,385.16 L134.58,383.54 L134.71,381.92 L134.84,380.29 L134.97,378.67 L135.10,377.05 L135.23,375.45 L135.36,373.87 L135.49,372.33 L135.62,370.83 L135.75,369.38 L135.88,367.98 L136.01,366.65 L136.14,365.39 L136.27,364.20 L136.40,363.11 L136.53,362.10 L136.66,361.20 L136.79,360.40 L136.92,359.70 L137.05,359.12 L137.18,358.66 L137.31,358.32 L137.44,358.10 L137.56,358.00 L137.69,358.04 L137.82,358.20 L137.95,358.50 L138.08,358.92 L138.21,359.48 L138.34,360.15 L138.47,360.95 L138.60,361.86 L138.73,362.88 L138.86,363.99 L138.99,365.21 L139.12,366.50 L139.25,367.88 L139.38,369.32 L139.51,370.83 L139.64,372.39 L139.77,373.99 L139.90,375.63 L140.03,377.29 L140.16,378.97 L140.29,380.65 L140.42,382.34 L140.55,384.02 L140.68,385.69 L140.81,387.34 L140.94,388.96 L141.06,390.54 L141.19,392.09 L141.32,393.60 L141.45,395.06 L141.58,396.47 L141.71,397.82 L141.84,399.13 L141.97,400.37 L142.10,401.56 L142.23,402.68 L142.36,403.75 L142.49,404.76 L142.62,405.71 L142.75,406.60 L142.88,407.43 L143.01,408.21 L143.14,408.93 L143.27,409.60 L143.40,410.22 L143.53,410.79 L143.66,411.32 L143.79,411.80 L143.92,412.24 L144.05,412.65 L144.18,413.01 L144.31,413.35 L144.44,413.65 L144.57,413.92 L144.69,414.16 L144.82,414.38 L144.95,414.58 L145.08,414.76 L145.21,414.91 L145.34,415.05 L145.47,415.17 L145.60,415.28 L145.73,415.38 L145.86,415.46 L145.99,415.54 L146.12,415.60 L146.25,415.66 L146.38,415.71 L146.51,415.75" fill="none" stroke="#000" stroke-width="1.5" stroke-dasharray="2.6,1.6"/>
<path d="M128.56,447.15 L128.69,447.10 L128.82,447.05 L128.96,447.00 L129.09,446.93 L129.22,446.86 L129.35,446.78 L129.48,446.68 L129.62,446.58 L129.75,446.46 L129.88,446.32 L130.01,446.17 L130.14,446.00 L130.28,445.81 L130.41,445.59 L130.54,445.36 L130.67,445.09 L130.80,444.80 L130.94,444.48 L131.07,444.13 L131.20,443.74 L131.33,443.31 L131.46,442.85 L131.60,442.34 L131.73,441.79 L131.86,441.19 L131.99,440.55 L132.12,439.85 L132.26,439.11 L132.39,438.30 L132.52,437.45 L132.65,436.53 L132.78,435.56 L132.92,434.53 L133.05,433.45 L133.18,432.30 L133.31,431.10 L133.44,429.84 L133.58,428.52 L133.71,427.15 L133.84,425.73 L133.97,424.27 L134.10,422.75 L134.24,421.20 L134.37,419.61 L134.50,417.99 L134.63,416.34 L134.76,414.68 L134.90,413.00 L135.03,411.32 L135.16,409.64 L135.29,407.96 L135.42,406.31 L135.56,404.68 L135.69,403.08 L135.82,401.53 L135.95,400.03 L136.08,398.58 L136.22,397.21 L136.35,395.91 L136.48,394.69 L136.61,393.57 L136.74,392.54 L136.88,391.62 L137.01,390.81 L137.14,390.11 L137.27,389.54 L137.40,389.09 L137.54,388.76 L137.67,388.57 L137.80,388.50 L137.93,388.57 L138.06,388.76 L138.20,389.09 L138.33,389.54 L138.46,390.11 L138.59,390.81 L138.72,391.62 L138.86,392.54 L138.99,393.57 L139.12,394.69 L139.25,395.91 L139.38,397.21 L139.52,398.58 L139.65,400.03 L139.78,401.53 L139.91,403.08 L140.04,404.68 L140.18,406.31 L140.31,407.96 L140.44,409.64 L140.57,411.32 L140.70,413.00 L140.84,414.68 L140.97,416.34 L141.10,417.99 L141.23,419.61 L141.36,421.20 L141.50,422.75 L141.63,424.27 L141.76,425.73 L141.89,427.15 L142.02,428.52 L142.16,429.84 L142.29,431.10 L142.42,432.30 L142.55,433.45 L142.68,434.53 L142.82,435.56 L142.95,436.53 L143.08,437.45 L143.21,438.30 L143.34,439.11 L143.48,439.85 L143.61,440.55 L143.74,441.19 L143.87,441.79 L144.00,442.34 L144.14,442.85 L144.27,443.31 L144.40,443.74 L144.53,444.13 L144.66,444.48 L144.80,444.80 L144.93,445.09 L145.06,445.36 L145.19,445.59 L145.32,445.81 L145.46,446.00 L145.59,446.17 L145.72,446.32 L145.85,446.46 L145.98,446.58 L146.12,446.68 L146.25,446.78 L146.38,446.86 L146.51,446.93 L146.64,447.00 L146.78,447.05 L146.91,447.10 L147.04,447.15" fill="none" stroke="#000" stroke-width="1.5" stroke-dasharray="2.6,1.6"/>
</g>
<rect x="122.45" y="350.75" width="96.0" height="96.94999999999999" fill="none" stroke="#0c0c0c" stroke-width="1.8"/>
<path d="M125.45,448.60 V451.30 M130.25,448.60 V451.30 M140.65,448.60 V451.30 M146.85,448.60 V451.30 M150.35,448.60 V451.30 M153.15,448.60 V451.30 M155.85,448.60 V451.30 M157.95,448.60 V451.30 M159.95,448.60 V451.30 M161.95,448.60 V451.30 M163.95,448.60 V451.30 M166.35,448.60 V451.30 M168.35,448.60 V451.30 M170.35,448.60 V451.30 M172.35,448.60 V451.30 M174.35,448.60 V451.30 M179.55,448.60 V451.30 M181.85,448.60 V451.30 M184.15,448.60 V451.30 M186.25,448.60 V451.30 M188.45,448.60 V451.30 M190.85,448.60 V451.30 M193.35,448.60 V451.30 M195.75,448.60 V451.30 M198.55,448.60 V451.30 M200.95,448.60 V451.30 M203.35,448.60 V451.30 M208.55,448.60 V451.30 M210.95,448.60 V451.30 M213.75,448.60 V451.30 M215.85,448.60 V451.30" stroke="#000" stroke-width="1.1"/>
<path d="M135.45,448.60 V452.10 M176.65,448.60 V452.10 M205.75,448.60 V452.10" stroke="#111" stroke-width="1.2"/>
<text x="136.85" y="464.60" font-size="8.2" text-anchor="middle" fill="#333" font-weight="normal" font-style="normal" style="stroke-width:0">0</text>
<text x="170.45" y="464.6" font-size="8.2" fill="#333" style="stroke-width:0">10<tspan font-size="6.5" dy="-3.4">3</tspan></text>
<text x="199.95" y="464.6" font-size="8.2" fill="#333" style="stroke-width:0">10<tspan font-size="6.5" dy="-3.4">4</tspan></text>
<text x="273.95" y="344.40" font-size="10.6" text-anchor="middle" fill="#262626" font-weight="normal" font-style="normal" textLength="49.3" lengthAdjust="spacingAndGlyphs" >CuZnSOD</text>
<clipPath id="clipB2"><rect x="225.95" y="350.75" width="96.0" height="96.94999999999999"/></clipPath>
<g clip-path="url(#clipB2)">
<line x1="225.95" y1="416.0" x2="321.95" y2="416.0" stroke="#4a4a4a" stroke-width="1.4"/>
<line x1="225.95" y1="416.0" x2="321.95" y2="416.0" stroke="#111" stroke-width="1.4" stroke-dasharray="2,1.5"/>
<path d="M246.16,415.76 L246.34,415.72 L246.52,415.67 L246.70,415.62 L246.89,415.56 L247.07,415.49 L247.25,415.41 L247.43,415.32 L247.61,415.21 L247.79,415.10 L247.97,414.96 L248.16,414.82 L248.34,414.65 L248.52,414.46 L248.70,414.26 L248.88,414.02 L249.06,413.77 L249.25,413.48 L249.43,413.17 L249.61,412.82 L249.79,412.44 L249.97,412.02 L250.15,411.57 L250.33,411.07 L250.52,410.53 L250.70,409.95 L250.88,409.31 L251.06,408.63 L251.24,407.90 L251.42,407.11 L251.60,406.27 L251.79,405.38 L251.97,404.42 L252.15,403.42 L252.33,402.35 L252.51,401.23 L252.69,400.05 L252.88,398.82 L253.06,397.54 L253.24,396.21 L253.42,394.82 L253.60,393.40 L253.78,391.93 L253.96,390.42 L254.15,388.89 L254.33,387.32 L254.51,385.73 L254.69,384.13 L254.87,382.53 L255.05,380.92 L255.23,379.31 L255.42,377.72 L255.60,376.15 L255.78,374.62 L255.96,373.12 L256.14,371.67 L256.32,370.27 L256.51,368.94 L256.69,367.68 L256.87,366.50 L257.05,365.40 L257.23,364.40 L257.41,363.50 L257.59,362.70 L257.78,362.02 L257.96,361.45 L258.14,361.00 L258.32,360.68 L258.50,360.48 L258.68,360.40 L258.87,360.45 L259.05,360.62 L259.23,360.91 L259.41,361.31 L259.59,361.83 L259.77,362.46 L259.95,363.20 L260.14,364.04 L260.32,364.98 L260.50,366.01 L260.68,367.12 L260.86,368.32 L261.04,369.58 L261.22,370.91 L261.41,372.29 L261.59,373.73 L261.77,375.21 L261.95,376.71 L262.13,378.25 L262.31,379.80 L262.50,381.37 L262.68,382.94 L262.86,384.50 L263.04,386.06 L263.22,387.60 L263.40,389.12 L263.58,390.62 L263.77,392.08 L263.95,393.51 L264.13,394.90 L264.31,396.24 L264.49,397.54 L264.67,398.79 L264.85,399.99 L265.04,401.14 L265.22,402.24 L265.40,403.28 L265.58,404.27 L265.76,405.21 L265.94,406.09 L266.12,406.92 L266.31,407.70 L266.49,408.43 L266.67,409.11 L266.85,409.74 L267.03,410.33 L267.21,410.87 L267.40,411.37 L267.58,411.83 L267.76,412.25 L267.94,412.64 L268.12,413.00 L268.30,413.32 L268.48,413.61 L268.67,413.88 L268.85,414.12 L269.03,414.33 L269.21,414.53 L269.39,414.70 L269.57,414.86 L269.75,415.00 L269.94,415.12 L270.12,415.23 L270.30,415.33 L270.48,415.42 L270.66,415.50 L270.84,415.56 L271.03,415.62 L271.21,415.68 L271.39,415.72 L271.57,415.76 Z" fill="#2c4a87" fill-opacity="0.74" stroke="#162a55" stroke-width="1.0"/>
<path d="M248.09,447.15 L248.30,447.10 L248.50,447.04 L248.70,446.98 L248.91,446.90 L249.11,446.82 L249.31,446.72 L249.51,446.60 L249.72,446.47 L249.92,446.32 L250.12,446.15 L250.32,445.96 L250.53,445.74 L250.73,445.49 L250.93,445.21 L251.14,444.89 L251.34,444.54 L251.54,444.15 L251.74,443.72 L251.95,443.24 L252.15,442.71 L252.35,442.13 L252.55,441.50 L252.76,440.80 L252.96,440.04 L253.16,439.22 L253.37,438.33 L253.57,437.38 L253.77,436.35 L253.97,435.25 L254.18,434.08 L254.38,432.84 L254.58,431.52 L254.78,430.14 L254.99,428.69 L255.19,427.17 L255.39,425.58 L255.60,423.94 L255.80,422.24 L256.00,420.50 L256.20,418.72 L256.41,416.90 L256.61,415.05 L256.81,413.19 L257.01,411.32 L257.22,409.46 L257.42,407.61 L257.62,405.78 L257.83,404.00 L258.03,402.26 L258.23,400.58 L258.43,398.97 L258.64,397.45 L258.84,396.02 L259.04,394.69 L259.24,393.49 L259.45,392.40 L259.65,391.45 L259.85,390.65 L260.06,389.98 L260.26,389.48 L260.46,389.13 L260.66,388.94 L260.87,388.92 L261.07,389.12 L261.27,389.47 L261.47,389.95 L261.68,390.53 L261.88,391.21 L262.08,391.97 L262.29,392.81 L262.49,393.73 L262.69,394.70 L262.89,395.73 L263.10,396.81 L263.30,397.93 L263.50,399.10 L263.70,400.29 L263.91,401.52 L264.11,402.76 L264.31,404.03 L264.51,405.31 L264.72,406.60 L264.92,407.90 L265.12,409.19 L265.33,410.49 L265.53,411.78 L265.73,413.06 L265.93,414.34 L266.14,415.60 L266.34,416.84 L266.54,418.06 L266.74,419.27 L266.95,420.45 L267.15,421.61 L267.35,422.74 L267.56,423.85 L267.76,424.93 L267.96,425.98 L268.16,427.00 L268.37,427.99 L268.57,428.95 L268.77,429.88 L268.97,430.78 L269.18,431.64 L269.38,432.48 L269.58,433.28 L269.79,434.05 L269.99,434.79 L270.19,435.50 L270.39,436.19 L270.60,436.84 L270.80,437.46 L271.00,438.05 L271.20,438.62 L271.41,439.15 L271.61,439.67 L271.81,440.15 L272.02,440.61 L272.22,441.05 L272.42,441.47 L272.62,441.86 L272.83,442.23 L273.03,442.58 L273.23,442.91 L273.43,443.22 L273.64,443.51 L273.84,443.78 L274.04,444.04 L274.25,444.28 L274.45,444.51 L274.65,444.72 L274.85,444.92 L275.06,445.11 L275.26,445.28 L275.46,445.44 L275.66,445.59 L275.87,445.73 L276.07,445.86 L276.27,445.99 L276.48,446.10 Z" fill="#b5002d" fill-opacity="0.78" stroke="#6a0020" stroke-width="1.0"/>
<path d="M234.59,415.74 L234.71,415.70 L234.82,415.66 L234.94,415.61 L235.05,415.55 L235.17,415.49 L235.28,415.41 L235.40,415.33 L235.51,415.24 L235.63,415.14 L235.75,415.03 L235.86,414.90 L235.98,414.76 L236.09,414.61 L236.21,414.43 L236.32,414.24 L236.44,414.04 L236.55,413.80 L236.67,413.55 L236.78,413.27 L236.90,412.97 L237.02,412.64 L237.13,412.28 L237.25,411.89 L237.36,411.46 L237.48,411.01 L237.59,410.51 L237.71,409.98 L237.82,409.40 L237.94,408.79 L238.06,408.13 L238.17,407.43 L238.29,406.69 L238.40,405.89 L238.52,405.05 L238.63,404.17 L238.75,403.23 L238.86,402.24 L238.98,401.21 L239.09,400.12 L239.21,398.99 L239.33,397.81 L239.44,396.59 L239.56,395.32 L239.67,394.00 L239.79,392.65 L239.90,391.26 L240.02,389.83 L240.13,388.37 L240.25,386.88 L240.37,385.37 L240.48,383.84 L240.60,382.30 L240.71,380.74 L240.83,379.18 L240.94,377.63 L241.06,376.08 L241.17,374.54 L241.29,373.02 L241.40,371.53 L241.52,370.07 L241.64,368.65 L241.75,367.27 L241.87,365.95 L241.98,364.69 L242.10,363.49 L242.21,362.35 L242.33,361.30 L242.44,360.33 L242.56,359.44 L242.68,358.64 L242.79,357.94 L242.91,357.34 L243.02,356.84 L243.14,356.44 L243.25,356.15 L243.37,355.97 L243.48,355.90 L243.60,355.96 L243.71,356.18 L243.83,356.57 L243.95,357.12 L244.06,357.82 L244.18,358.68 L244.29,359.67 L244.41,360.80 L244.52,362.06 L244.64,363.43 L244.75,364.91 L244.87,366.49 L244.98,368.14 L245.10,369.87 L245.22,371.66 L245.33,373.50 L245.45,375.37 L245.56,377.27 L245.68,379.18 L245.79,381.10 L245.91,383.00 L246.02,384.89 L246.14,386.75 L246.26,388.57 L246.37,390.35 L246.49,392.08 L246.60,393.76 L246.72,395.37 L246.83,396.92 L246.95,398.41 L247.06,399.82 L247.18,401.16 L247.29,402.43 L247.41,403.62 L247.53,404.74 L247.64,405.78 L247.76,406.76 L247.87,407.66 L247.99,408.50 L248.10,409.27 L248.22,409.98 L248.33,410.63 L248.45,411.22 L248.57,411.76 L248.68,412.25 L248.80,412.69 L248.91,413.08 L249.03,413.44 L249.14,413.76 L249.26,414.05 L249.37,414.30 L249.49,414.52 L249.60,414.72 L249.72,414.90 L249.84,415.05 L249.95,415.18 L250.07,415.30 L250.18,415.40 L250.30,415.49 L250.41,415.57 L250.53,415.64 L250.64,415.69 L250.76,415.74" fill="none" stroke="#000" stroke-width="1.5" stroke-dasharray="2.6,1.6"/>
<path d="M234.12,447.15 L234.24,447.10 L234.36,447.06 L234.48,447.00 L234.60,446.94 L234.72,446.87 L234.84,446.79 L234.96,446.70 L235.08,446.60 L235.20,446.48 L235.32,446.35 L235.44,446.20 L235.56,446.04 L235.68,445.86 L235.80,445.65 L235.92,445.43 L236.04,445.18 L236.16,444.90 L236.28,444.60 L236.40,444.26 L236.52,443.89 L236.64,443.49 L236.76,443.05 L236.88,442.57 L237.01,442.05 L237.13,441.49 L237.25,440.88 L237.37,440.22 L237.49,439.51 L237.61,438.76 L237.73,437.95 L237.85,437.08 L237.97,436.17 L238.09,435.19 L238.21,434.16 L238.33,433.08 L238.45,431.94 L238.57,430.74 L238.69,429.49 L238.81,428.19 L238.93,426.83 L239.05,425.43 L239.17,423.98 L239.29,422.49 L239.41,420.96 L239.53,419.39 L239.65,417.80 L239.77,416.19 L239.89,414.55 L240.01,412.90 L240.13,411.25 L240.25,409.60 L240.37,407.96 L240.49,406.34 L240.61,404.74 L240.73,403.17 L240.85,401.65 L240.97,400.17 L241.09,398.75 L241.21,397.39 L241.33,396.10 L241.45,394.90 L241.57,393.78 L241.69,392.75 L241.81,391.82 L241.93,391.00 L242.05,390.29 L242.17,389.69 L242.29,389.21 L242.41,388.85 L242.53,388.62 L242.66,388.51 L242.78,388.53 L242.90,388.68 L243.02,388.97 L243.14,389.39 L243.26,389.94 L243.38,390.62 L243.50,391.42 L243.62,392.33 L243.74,393.36 L243.86,394.49 L243.98,395.71 L244.10,397.02 L244.22,398.42 L244.34,399.88 L244.46,401.41 L244.58,402.99 L244.70,404.61 L244.82,406.28 L244.94,407.96 L245.06,409.67 L245.18,411.39 L245.30,413.10 L245.42,414.81 L245.54,416.51 L245.66,418.19 L245.78,419.84 L245.90,421.45 L246.02,423.03 L246.14,424.56 L246.26,426.05 L246.38,427.49 L246.50,428.87 L246.62,430.20 L246.74,431.47 L246.86,432.67 L246.98,433.82 L247.10,434.91 L247.22,435.94 L247.34,436.91 L247.46,437.81 L247.58,438.66 L247.70,439.46 L247.82,440.19 L247.94,440.88 L248.06,441.51 L248.19,442.09 L248.31,442.63 L248.43,443.12 L248.55,443.57 L248.67,443.98 L248.79,444.36 L248.91,444.70 L249.03,445.00 L249.15,445.28 L249.27,445.53 L249.39,445.75 L249.51,445.95 L249.63,446.13 L249.75,446.29 L249.87,446.43 L249.99,446.56 L250.11,446.67 L250.23,446.77 L250.35,446.85 L250.47,446.93 L250.59,446.99 L250.71,447.05 L250.83,447.10 L250.95,447.15" fill="none" stroke="#000" stroke-width="1.5" stroke-dasharray="2.6,1.6"/>
</g>
<rect x="225.95" y="350.75" width="96.0" height="96.94999999999999" fill="none" stroke="#0c0c0c" stroke-width="1.8"/>
<path d="M228.95,448.60 V451.30 M233.75,448.60 V451.30 M244.15,448.60 V451.30 M250.35,448.60 V451.30 M253.85,448.60 V451.30 M256.65,448.60 V451.30 M259.35,448.60 V451.30 M261.45,448.60 V451.30 M263.45,448.60 V451.30 M265.45,448.60 V451.30 M267.45,448.60 V451.30 M269.85,448.60 V451.30 M271.85,448.60 V451.30 M273.85,448.60 V451.30 M275.85,448.60 V451.30 M277.85,448.60 V451.30 M283.05,448.60 V451.30 M285.35,448.60 V451.30 M287.65,448.60 V451.30 M289.75,448.60 V451.30 M291.95,448.60 V451.30 M294.35,448.60 V451.30 M296.85,448.60 V451.30 M299.25,448.60 V451.30 M302.05,448.60 V451.30 M304.45,448.60 V451.30 M306.85,448.60 V451.30 M312.05,448.60 V451.30 M314.45,448.60 V451.30 M317.25,448.60 V451.30 M319.35,448.60 V451.30" stroke="#000" stroke-width="1.1"/>
<path d="M238.95,448.60 V452.10 M280.15,448.60 V452.10 M309.25,448.60 V452.10" stroke="#111" stroke-width="1.2"/>
<text x="241.35" y="464.60" font-size="8.2" text-anchor="middle" fill="#333" font-weight="normal" font-style="normal" style="stroke-width:0">0</text>
<text x="273.95" y="464.6" font-size="8.2" fill="#333" style="stroke-width:0">10<tspan font-size="6.5" dy="-3.4">3</tspan></text>
<text x="303.45" y="464.6" font-size="8.2" fill="#333" style="stroke-width:0">10<tspan font-size="6.5" dy="-3.4">4</tspan></text>
<text x="377.80" y="344.40" font-size="10.6" text-anchor="middle" fill="#262626" font-weight="normal" font-style="normal" textLength="39.6" lengthAdjust="spacingAndGlyphs" >MnSOD</text>
<clipPath id="clipB3"><rect x="329.8" y="350.75" width="96.0" height="96.94999999999999"/></clipPath>
<g clip-path="url(#clipB3)">
<line x1="329.8" y1="416.0" x2="425.8" y2="416.0" stroke="#4a4a4a" stroke-width="1.4"/>
<line x1="329.8" y1="416.0" x2="425.8" y2="416.0" stroke="#111" stroke-width="1.4" stroke-dasharray="2,1.5"/>
<path d="M347.22,415.74 L347.39,415.69 L347.57,415.64 L347.74,415.58 L347.91,415.52 L348.09,415.44 L348.26,415.35 L348.43,415.25 L348.61,415.14 L348.78,415.01 L348.95,414.86 L349.13,414.70 L349.30,414.51 L349.47,414.31 L349.65,414.08 L349.82,413.82 L349.99,413.53 L350.17,413.22 L350.34,412.87 L350.51,412.48 L350.69,412.06 L350.86,411.60 L351.03,411.09 L351.20,410.54 L351.38,409.94 L351.55,409.29 L351.72,408.58 L351.90,407.82 L352.07,407.01 L352.24,406.13 L352.42,405.20 L352.59,404.20 L352.76,403.14 L352.94,402.02 L353.11,400.84 L353.28,399.60 L353.46,398.29 L353.63,396.92 L353.80,395.50 L353.98,394.02 L354.15,392.49 L354.32,390.91 L354.50,389.29 L354.67,387.63 L354.84,385.93 L355.02,384.21 L355.19,382.46 L355.36,380.70 L355.54,378.94 L355.71,377.17 L355.88,375.42 L356.06,373.69 L356.23,371.98 L356.40,370.31 L356.58,368.69 L356.75,367.12 L356.92,365.62 L357.10,364.19 L357.27,362.84 L357.44,361.59 L357.62,360.43 L357.79,359.39 L357.96,358.45 L358.13,357.64 L358.31,356.95 L358.48,356.39 L358.65,355.96 L358.83,355.67 L359.00,355.52 L359.17,355.51 L359.35,355.63 L359.52,355.88 L359.69,356.25 L359.87,356.75 L360.04,357.37 L360.21,358.11 L360.39,358.96 L360.56,359.92 L360.73,360.98 L360.91,362.13 L361.08,363.37 L361.25,364.69 L361.43,366.09 L361.60,367.55 L361.77,369.07 L361.95,370.64 L362.12,372.25 L362.29,373.89 L362.47,375.56 L362.64,377.24 L362.81,378.94 L362.99,380.63 L363.16,382.32 L363.33,384.00 L363.51,385.66 L363.68,387.29 L363.85,388.89 L364.03,390.46 L364.20,391.99 L364.37,393.48 L364.55,394.92 L364.72,396.31 L364.89,397.64 L365.06,398.92 L365.24,400.15 L365.41,401.32 L365.58,402.43 L365.76,403.49 L365.93,404.49 L366.10,405.43 L366.28,406.31 L366.45,407.14 L366.62,407.92 L366.80,408.64 L366.97,409.31 L367.14,409.94 L367.32,410.52 L367.49,411.05 L367.66,411.54 L367.84,411.99 L368.01,412.40 L368.18,412.78 L368.36,413.12 L368.53,413.44 L368.70,413.72 L368.88,413.98 L369.05,414.21 L369.22,414.42 L369.40,414.60 L369.57,414.77 L369.74,414.92 L369.92,415.06 L370.09,415.17 L370.26,415.28 L370.44,415.37 L370.61,415.45 L370.78,415.53 L370.96,415.59 L371.13,415.65 L371.30,415.70 L371.48,415.74 Z" fill="#2c4a87" fill-opacity="0.74" stroke="#162a55" stroke-width="1.0"/>
<path d="M344.89,447.16 L345.08,447.12 L345.27,447.07 L345.46,447.01 L345.64,446.94 L345.83,446.86 L346.02,446.77 L346.21,446.67 L346.40,446.55 L346.59,446.42 L346.78,446.26 L346.96,446.09 L347.15,445.90 L347.34,445.68 L347.53,445.44 L347.72,445.16 L347.91,444.86 L348.10,444.52 L348.28,444.14 L348.47,443.72 L348.66,443.27 L348.85,442.76 L349.04,442.21 L349.23,441.61 L349.42,440.95 L349.60,440.24 L349.79,439.48 L349.98,438.65 L350.17,437.76 L350.36,436.81 L350.55,435.79 L350.74,434.71 L350.92,433.57 L351.11,432.36 L351.30,431.09 L351.49,429.75 L351.68,428.36 L351.87,426.91 L352.06,425.41 L352.24,423.86 L352.43,422.26 L352.62,420.63 L352.81,418.96 L353.00,417.27 L353.19,415.56 L353.38,413.84 L353.56,412.12 L353.75,410.40 L353.94,408.71 L354.13,407.04 L354.32,405.41 L354.51,403.83 L354.70,402.30 L354.88,400.84 L355.07,399.46 L355.26,398.17 L355.45,396.97 L355.64,395.88 L355.83,394.90 L356.02,394.04 L356.20,393.31 L356.39,392.71 L356.58,392.24 L356.77,391.92 L356.96,391.74 L357.15,391.70 L357.34,391.78 L357.52,391.97 L357.71,392.26 L357.90,392.66 L358.09,393.16 L358.28,393.75 L358.47,394.45 L358.66,395.23 L358.84,396.10 L359.03,397.05 L359.22,398.08 L359.41,399.18 L359.60,400.35 L359.79,401.58 L359.98,402.86 L360.16,404.19 L360.35,405.56 L360.54,406.96 L360.73,408.40 L360.92,409.85 L361.11,411.32 L361.30,412.80 L361.48,414.28 L361.67,415.76 L361.86,417.23 L362.05,418.69 L362.24,420.13 L362.43,421.54 L362.62,422.93 L362.80,424.29 L362.99,425.62 L363.18,426.91 L363.37,428.16 L363.56,429.37 L363.75,430.54 L363.94,431.66 L364.12,432.73 L364.31,433.76 L364.50,434.74 L364.69,435.67 L364.88,436.55 L365.07,437.39 L365.26,438.18 L365.44,438.92 L365.63,439.62 L365.82,440.28 L366.01,440.89 L366.20,441.46 L366.39,441.99 L366.58,442.49 L366.76,442.94 L366.95,443.37 L367.14,443.75 L367.33,444.11 L367.52,444.44 L367.71,444.74 L367.90,445.02 L368.08,445.27 L368.27,445.50 L368.46,445.70 L368.65,445.89 L368.84,446.06 L369.03,446.21 L369.22,446.35 L369.40,446.47 L369.59,446.58 L369.78,446.68 L369.97,446.77 L370.16,446.85 L370.35,446.92 L370.54,446.98 L370.72,447.03 L370.91,447.08 L371.10,447.12 L371.29,447.16 Z" fill="#b5002d" fill-opacity="0.78" stroke="#6a0020" stroke-width="1.0"/>
<path d="M339.34,415.75 L339.44,415.71 L339.55,415.66 L339.65,415.61 L339.75,415.55 L339.86,415.48 L339.96,415.39 L340.07,415.30 L340.17,415.20 L340.27,415.08 L340.38,414.95 L340.48,414.80 L340.58,414.63 L340.69,414.45 L340.79,414.24 L340.90,414.01 L341.00,413.75 L341.10,413.47 L341.21,413.16 L341.31,412.81 L341.41,412.43 L341.52,412.02 L341.62,411.56 L341.73,411.07 L341.83,410.53 L341.93,409.95 L342.04,409.32 L342.14,408.64 L342.24,407.92 L342.35,407.14 L342.45,406.30 L342.56,405.41 L342.66,404.46 L342.76,403.46 L342.87,402.40 L342.97,401.29 L343.07,400.11 L343.18,398.89 L343.28,397.60 L343.38,396.27 L343.49,394.89 L343.59,393.46 L343.70,391.98 L343.80,390.47 L343.90,388.92 L344.01,387.34 L344.11,385.74 L344.21,384.11 L344.32,382.48 L344.42,380.84 L344.53,379.20 L344.63,377.57 L344.73,375.95 L344.84,374.37 L344.94,372.81 L345.04,371.30 L345.15,369.83 L345.25,368.43 L345.36,367.09 L345.46,365.82 L345.56,364.64 L345.67,363.54 L345.77,362.54 L345.87,361.64 L345.98,360.85 L346.08,360.17 L346.19,359.61 L346.29,359.17 L346.39,358.85 L346.50,358.66 L346.60,358.60 L346.70,358.66 L346.81,358.85 L346.91,359.17 L347.01,359.61 L347.12,360.17 L347.22,360.85 L347.33,361.64 L347.43,362.54 L347.53,363.54 L347.64,364.64 L347.74,365.82 L347.84,367.09 L347.95,368.43 L348.05,369.83 L348.16,371.30 L348.26,372.81 L348.36,374.37 L348.47,375.95 L348.57,377.57 L348.67,379.20 L348.78,380.84 L348.88,382.48 L348.99,384.11 L349.09,385.74 L349.19,387.34 L349.30,388.92 L349.40,390.47 L349.50,391.98 L349.61,393.46 L349.71,394.89 L349.82,396.27 L349.92,397.60 L350.02,398.89 L350.13,400.11 L350.23,401.29 L350.33,402.40 L350.44,403.46 L350.54,404.46 L350.64,405.41 L350.75,406.30 L350.85,407.14 L350.96,407.92 L351.06,408.64 L351.16,409.32 L351.27,409.95 L351.37,410.53 L351.47,411.07 L351.58,411.56 L351.68,412.02 L351.79,412.43 L351.89,412.81 L351.99,413.16 L352.10,413.47 L352.20,413.75 L352.30,414.01 L352.41,414.24 L352.51,414.45 L352.62,414.63 L352.72,414.80 L352.82,414.95 L352.93,415.08 L353.03,415.20 L353.13,415.30 L353.24,415.39 L353.34,415.48 L353.45,415.55 L353.55,415.61 L353.65,415.66 L353.76,415.71 L353.86,415.75" fill="none" stroke="#000" stroke-width="1.5" stroke-dasharray="2.6,1.6"/>
<path d="M338.35,447.15 L338.47,447.10 L338.58,447.06 L338.70,447.00 L338.81,446.94 L338.93,446.87 L339.04,446.79 L339.16,446.70 L339.27,446.60 L339.39,446.48 L339.50,446.35 L339.62,446.20 L339.74,446.04 L339.85,445.86 L339.97,445.66 L340.08,445.43 L340.20,445.18 L340.31,444.91 L340.43,444.60 L340.54,444.27 L340.66,443.90 L340.78,443.50 L340.89,443.06 L341.01,442.58 L341.12,442.06 L341.24,441.50 L341.35,440.89 L341.47,440.23 L341.58,439.53 L341.70,438.78 L341.82,437.97 L341.93,437.11 L342.05,436.19 L342.16,435.22 L342.28,434.19 L342.39,433.11 L342.51,431.97 L342.62,430.78 L342.74,429.53 L342.85,428.23 L342.97,426.87 L343.09,425.47 L343.20,424.03 L343.32,422.54 L343.43,421.01 L343.55,419.45 L343.66,417.86 L343.78,416.25 L343.89,414.61 L344.01,412.97 L344.12,411.32 L344.24,409.67 L344.36,408.03 L344.47,406.41 L344.59,404.81 L344.70,403.24 L344.82,401.71 L344.93,400.23 L345.05,398.81 L345.16,397.45 L345.28,396.16 L345.40,394.95 L345.51,393.83 L345.63,392.80 L345.74,391.87 L345.86,391.04 L345.97,390.32 L346.09,389.72 L346.20,389.23 L346.32,388.87 L346.44,388.63 L346.55,388.51 L346.67,388.52 L346.78,388.67 L346.90,388.95 L347.01,389.36 L347.13,389.91 L347.24,390.58 L347.36,391.37 L347.47,392.28 L347.59,393.30 L347.71,394.43 L347.82,395.65 L347.94,396.96 L348.05,398.35 L348.17,399.81 L348.28,401.34 L348.40,402.92 L348.51,404.54 L348.63,406.21 L348.75,407.89 L348.86,409.60 L348.98,411.32 L349.09,413.04 L349.21,414.75 L349.32,416.45 L349.44,418.13 L349.55,419.78 L349.67,421.40 L349.78,422.98 L349.90,424.51 L350.02,426.00 L350.13,427.44 L350.25,428.83 L350.36,430.16 L350.48,431.43 L350.59,432.64 L350.71,433.79 L350.82,434.88 L350.94,435.91 L351.06,436.88 L351.17,437.79 L351.29,438.64 L351.40,439.44 L351.52,440.18 L351.63,440.86 L351.75,441.50 L351.86,442.08 L351.98,442.62 L352.09,443.11 L352.21,443.57 L352.33,443.98 L352.44,444.35 L352.56,444.69 L352.67,445.00 L352.79,445.28 L352.90,445.53 L353.02,445.75 L353.13,445.95 L353.25,446.13 L353.37,446.29 L353.48,446.43 L353.60,446.56 L353.71,446.67 L353.83,446.77 L353.94,446.85 L354.06,446.93 L354.17,446.99 L354.29,447.05 L354.40,447.10 L354.52,447.15" fill="none" stroke="#000" stroke-width="1.5" stroke-dasharray="2.6,1.6"/>
</g>
<rect x="329.8" y="350.75" width="96.0" height="96.94999999999999" fill="none" stroke="#0c0c0c" stroke-width="1.8"/>
<path d="M332.80,448.60 V451.30 M337.60,448.60 V451.30 M348.00,448.60 V451.30 M354.20,448.60 V451.30 M357.70,448.60 V451.30 M360.50,448.60 V451.30 M363.20,448.60 V451.30 M365.30,448.60 V451.30 M367.30,448.60 V451.30 M369.30,448.60 V451.30 M371.30,448.60 V451.30 M373.70,448.60 V451.30 M375.70,448.60 V451.30 M377.70,448.60 V451.30 M379.70,448.60 V451.30 M381.70,448.60 V451.30 M386.90,448.60 V451.30 M389.20,448.60 V451.30 M391.50,448.60 V451.30 M393.60,448.60 V451.30 M395.80,448.60 V451.30 M398.20,448.60 V451.30 M400.70,448.60 V451.30 M403.10,448.60 V451.30 M405.90,448.60 V451.30 M408.30,448.60 V451.30 M410.70,448.60 V451.30 M415.90,448.60 V451.30 M418.30,448.60 V451.30 M421.10,448.60 V451.30 M423.20,448.60 V451.30" stroke="#000" stroke-width="1.1"/>
<path d="M342.80,448.60 V452.10 M384.00,448.60 V452.10 M413.10,448.60 V452.10" stroke="#111" stroke-width="1.2"/>
<text x="345.00" y="464.60" font-size="8.2" text-anchor="middle" fill="#333" font-weight="normal" font-style="normal" style="stroke-width:0">0</text>
<text x="377.80" y="464.6" font-size="8.2" fill="#333" style="stroke-width:0">10<tspan font-size="6.5" dy="-3.4">3</tspan></text>
<text x="407.30" y="464.6" font-size="8.2" fill="#333" style="stroke-width:0">10<tspan font-size="6.5" dy="-3.4">4</tspan></text>
<text x="429.6" y="416.2" font-size="8.9" fill="#2a2a2a" style="stroke-width:0.08px" textLength="79.2" lengthAdjust="spacingAndGlyphs">Low H<tspan font-size="7" dy="2.5">2</tspan><tspan dy="-2.5">O</tspan><tspan font-size="7" dy="2.5">2</tspan><tspan dy="-2.5">-sensitive</tspan></text>
<text x="429.6" y="446.5" font-size="8.9" fill="#2a2a2a" style="stroke-width:0.08px" textLength="81.7" lengthAdjust="spacingAndGlyphs">High H<tspan font-size="7" dy="2.5">2</tspan><tspan dy="-2.5">O</tspan><tspan font-size="7" dy="2.5">2</tspan><tspan dy="-2.5">-sensitive</tspan></text>
<text x="8.00" y="18.90" font-size="12.4" text-anchor="start" fill="#111" font-weight="bold" font-style="normal" textLength="9.9" lengthAdjust="spacingAndGlyphs" >A</text>
<text x="8.40" y="334.30" font-size="12.2" text-anchor="start" fill="#111" font-weight="bold" font-style="normal" textLength="8.4" lengthAdjust="spacingAndGlyphs" >B</text>
<rect x="0" y="0" width="1.6" height="472" fill="#111"/>
<rect x="0" y="0" width="520" height="1.6" fill="#111"/>
<rect x="518.2" y="0" width="1.8" height="472" fill="#111"/>
<rect x="0" y="470.4" width="520" height="1.6" fill="#111"/>
</svg></div>
</body></html>
